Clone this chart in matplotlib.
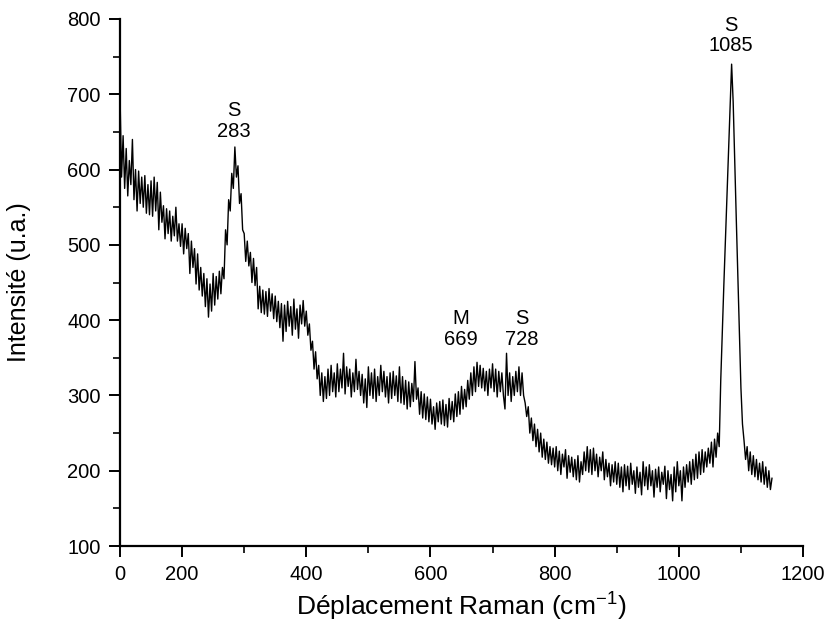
import numpy as np
import matplotlib
matplotlib.use("Agg")
import matplotlib.pyplot as plt
from matplotlib.ticker import MultipleLocator

plt.rcParams['font.family'] = ['Liberation Sans', 'DejaVu Sans']
plt.rcParams['mathtext.default'] = 'regular'

# Raman shift, one value every 2.5 cm-1 from 100 to 1150
shift = np.arange(100, 1150.1, 2.5)

# intensity (noisy trace, rough estimates), 20 values per 50 cm-1
intensity = [
    700, 590, 645, 575, 628, 565, 612, 580, 640, 560, 600, 545, 598, 555, 590, 550, 592, 542, 580, 540,  # 100
    585, 538, 590, 545, 583, 520, 570, 530, 552, 508, 548, 515, 545, 505, 538, 512, 550, 505, 528, 498,  # 150
    528, 488, 522, 495, 515, 462, 505, 470, 495, 448, 488, 440, 470, 432, 462, 418, 455, 404, 448, 412,  # 200
    462, 420, 458, 428, 465, 435, 470, 455, 520, 500, 560, 545, 595, 575, 630, 590, 605, 555, 568, 520,  # 250
    515, 478, 505, 472, 490, 450, 482, 446, 470, 415, 445, 410, 440, 408, 438, 405, 442, 412, 435, 402,  # 300
    432, 398, 425, 390, 422, 372, 420, 385, 425, 392, 418, 380, 428, 388, 415, 376, 420, 395, 426, 392,  # 350
    412, 380, 395, 360, 372, 335, 358, 322, 340, 300, 330, 292, 325, 296, 335, 300, 340, 305, 330, 298,  # 400
    342, 305, 335, 310, 356, 302, 338, 312, 335, 298, 330, 305, 348, 308, 332, 300, 328, 290, 322, 284,  # 450
    338, 300, 330, 296, 335, 292, 325, 300, 340, 305, 332, 298, 325, 290, 330, 296, 332, 300, 326, 292,  # 500
    338, 290, 325, 288, 320, 282, 318, 285, 316, 292, 345, 295, 310, 275, 305, 270, 302, 268, 298, 265,  # 550
    295, 262, 285, 255, 290, 265, 292, 262, 294, 260, 288, 258, 296, 268, 292, 265, 302, 272, 305, 275,  # 600
    312, 282, 308, 285, 320, 295, 330, 300, 338, 305, 344, 312, 340, 310, 336, 306, 332, 300, 335, 310,  # 650
    342, 305, 335, 298, 332, 305, 330, 300, 282, 356, 300, 330, 292, 325, 300, 332, 305, 338, 300, 330,  # 700
    300, 290, 272, 285, 250, 270, 240, 262, 232, 255, 225, 250, 218, 242, 215, 238, 210, 232, 208, 230,  # 750
    205, 232, 200, 226, 195, 222, 205, 228, 190, 220, 198, 218, 192, 215, 188, 220, 185, 212, 195, 225,  # 800
    200, 232, 198, 228, 195, 230, 200, 222, 192, 218, 200, 225, 188, 215, 192, 210, 180, 208, 185, 212,  # 850
    182, 210, 178, 205, 172, 208, 180, 206, 175, 210, 182, 200, 170, 205, 178, 198, 168, 212, 180, 205,  # 900
    175, 208, 180, 200, 165, 202, 178, 205, 172, 198, 182, 206, 163, 200, 175, 195, 160, 205, 172, 212,  # 950
    180, 200, 160, 205, 178, 208, 185, 212, 182, 215, 188, 222, 190, 225, 195, 228, 198, 225, 205, 230,  # 1000
    210, 238, 205, 242, 218, 250, 232, 320, 385, 447, 505, 565, 623, 682, 740, 690, 610, 535, 458, 385,  # 1050
    310, 262, 240, 215, 232, 200, 225, 195, 220, 192, 215, 188, 210, 185, 212, 182, 205, 178, 200, 175,  # 1100
    190,                                                                                                   # 1150
]

# peak annotations: text, x position of label, y of label bottom
peak_text = ["S\n283", "M\n669", "S\n728", "S\n1085"]
peak_x = [283, 649, 747, 1084]
peak_y = [638, 362, 362, 752]

fig = plt.figure(figsize=(8.27, 6.33), dpi=100)
ax = fig.add_axes([0.1451, 0.1374, 0.8259, 0.8326])

ax.plot(shift, intensity, color='black', lw=1.0)

for t, x, y in zip(peak_text, peak_x, peak_y):
    ax.text(x, y, t, ha='center', va='bottom', fontsize=14.5, linespacing=1.1)

ax.set_xlim(100, 1200)
ax.set_ylim(100, 800)
ax.set_xticks([100, 200, 400, 600, 800, 1000, 1200])
ax.set_xticklabels(["0", "200", "400", "600", "800", "1000", "1200"])
ax.xaxis.set_minor_locator(MultipleLocator(100))
ax.yaxis.set_major_locator(MultipleLocator(100))
ax.yaxis.set_minor_locator(MultipleLocator(50))

ax.spines['top'].set_visible(False)
ax.spines['right'].set_visible(False)
for s in ['left', 'bottom']:
    ax.spines[s].set_linewidth(1.6)

ax.tick_params(which='major', direction='out', length=8, width=1.4, labelsize=14.5, pad=6)
ax.tick_params(which='minor', direction='out', length=5, width=1.2)

ax.set_xlabel("Déplacement Raman (cm$^{-1}$)", fontsize=19)
ax.set_ylabel("Intensité (u.a.)", fontsize=18)
ax.xaxis.set_label_coords(0.5, -0.085)
ax.yaxis.set_label_coords(-0.13, 0.5)

fig.savefig("out.png", dpi=100)
